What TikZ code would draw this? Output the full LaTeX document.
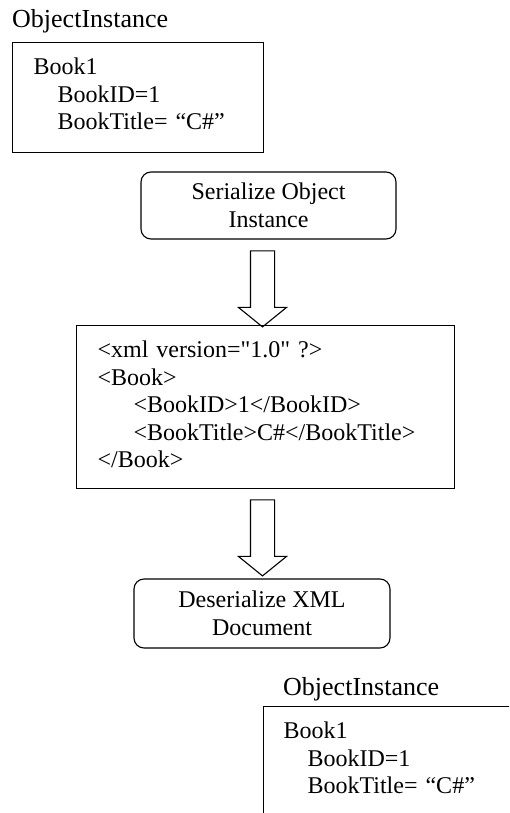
\documentclass[tikz,border=0pt]{standalone}
\usepackage{fontspec}
\setmainfont{Liberation Serif}
\usetikzlibrary{shapes.arrows, positioning}

\newcommand{\bodyfont}{\fontsize{24}{27.5}\selectfont}
\newcommand{\headfont}{\fontsize{26}{30}\selectfont}

\begin{document}
\begin{tikzpicture}[x=1pt, y=-1pt,
    objbox/.style={rectangle, draw, line width=1.1pt, anchor=north west, align=left, font=\bodyfont, inner xsep=21pt, inner ysep=0pt, text height=32pt},
    procbox/.style={rectangle, draw, rounded corners=10pt, line width=1.1pt, align=center, font=\bodyfont},
    heading/.style={font=\headfont, inner sep=0pt},
    bigarrow/.style={single arrow, draw, line width=1.1pt, shape border rotate=270, inner xsep=11.5pt, inner ysep=0pt, single arrow head extend=12pt, single arrow tip angle=102, minimum height=76pt}
]
\useasboundingbox (0,0) rectangle (509,813);
\clip (0,0) rectangle (509,813);

% object before serializing
\node[objbox, text width=209pt, text depth=78pt] (objtop) at (12,42) {Book1\\\hspace*{24pt}BookID=1\\\hspace*{24pt}BookTitle= “C\#”};
\node[heading, above=14pt of objtop.north west, anchor=base west] (headtop) {ObjectInstance};

\node[procbox, minimum width=255pt, minimum height=67pt] (ser) at (268.5,205.5) {Serialize Object\\Instance};
\node[bigarrow] (arr1) at (262.5,284) {};

% xml document
\node[objbox, text width=336pt, text depth=131pt] (xml) at (76,325) {<xml version=\textquotedbl1.0\textquotedbl{} ?>\\<Book>\\\hspace*{36pt}<BookID>1</BookID>\\\hspace*{36pt}<BookTitle>C\#</BookTitle>\\</Book>};

\node[bigarrow] (arr2) at (262.5,533) {};
\node[procbox, minimum width=256pt, minimum height=69pt] (deser) at (262,613.5) {Deserialize XML\\Document};

% object after deserializing
\node[objbox, inner xsep=20pt, text width=220pt, text depth=110pt] (objbot) at (263,706) {Book1\\\hspace*{24pt}BookID=1\\\hspace*{24pt}BookTitle= “C\#”};
\node[heading, above=11pt of objbot.north west, anchor=base west, xshift=20pt] (headbot) {ObjectInstance};
\end{tikzpicture}
\end{document}
